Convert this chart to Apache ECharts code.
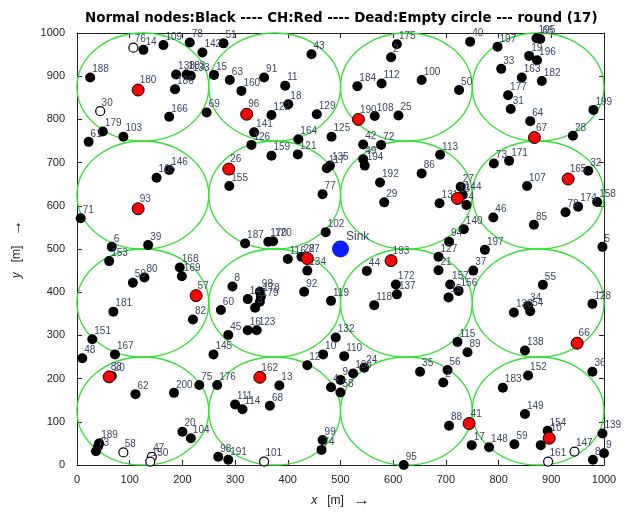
<!DOCTYPE html>
<html>
<head>
<meta charset="utf-8">
<script src="https://cdn.jsdelivr.net/npm/echarts@6/dist/echarts.min.js"></script>
<style>
  html, body { margin: 0; padding: 0; background: #fff; }
  #chart { width: 632px; height: 516px; }
</style>
</head>
<body>
<div id="chart"></div>
<script>
// cluster cells (centres of the green circles) and their radius
const cellCentres = [125, 375, 625, 875];
const cellRadius = 125;

// [x, y, id]
const normalNodes = [
  [126, 961, '14'], [164, 972, '109'], [214, 978, '78'], [238, 955, '142'], [278, 976, '51'],
  [25, 897, '188'], [188, 904, '138'], [208, 904, '183'], [216, 901, '133'], [186, 870, '186'],
  [260, 903, '15'], [290, 891, '63'], [312, 866, '160'], [175, 806, '166'], [246, 816, '69'],
  [49, 772, '179'], [88, 760, '103'], [22, 748, '61'],
  [445, 951, '43'], [355, 897, '91'], [395, 878, '11'], [401, 835, '18'], [369, 810, '122'],
  [455, 812, '129'], [336, 770, '141'], [331, 741, '126'], [420, 754, '164'], [483, 760, '125'],
  [607, 974, '175'], [596, 944, '2'], [532, 877, '184'], [578, 883, '112'], [654, 891, '100'],
  [565, 808, '108'], [610, 809, '25'], [543, 742, '42'], [577, 741, '72'],
  [746, 980, '40'], [798, 968, '197'], [872, 988, '195'], [879, 986, '65'], [858, 947, '19'],
  [873, 937, '196'], [805, 917, '33'], [844, 897, '163'], [882, 889, '182'], [818, 856, '177'],
  [823, 824, '31'], [860, 796, '64'], [980, 822, '199'], [941, 762, '28'], [725, 868, '50'],
  [175, 683, '146'], [151, 665, '105'], [289, 646, '155'], [7, 571, '71'], [66, 505, '6'], [135, 509, '39'],
  [369, 716, '159'], [419, 719, '121'], [474, 687, '117'], [480, 693, '135'], [466, 627, '77'],
  [472, 539, '102'], [363, 517, '170'], [372, 518, '120'], [319, 513, '187'], [543, 708, '49'],
  [546, 693, '194'], [575, 654, '192'], [583, 608, '29'], [654, 675, '86'],
  [689, 718, '113'], [728, 644, '27'], [732, 625, '144'], [739, 602, '4'], [688, 606, '131'],
  [734, 546, '140'], [706, 517, '94'], [686, 482, '127'], [774, 498, '197'], [791, 698, '73'],
  [820, 704, '171'], [854, 646, '107'], [970, 681, '32'], [790, 573, '46'], [867, 556, '85'],
  [927, 585, '78'], [951, 598, '174'], [987, 609, '158'], [997, 505, '5'],
  [61, 472, '153'], [106, 422, '59'], [128, 434, '80'], [195, 457, '168'], [199, 437, '169'],
  [69, 355, '181'], [220, 337, '82'], [29, 291, '151'], [72, 256, '167'], [10, 247, '48'],
  [259, 256, '145'], [295, 413, '8'], [273, 359, '60'], [287, 301, '45'],
  [400, 477, '116'], [426, 482, '22'], [437, 450, '134'], [431, 401, '92'], [482, 380, '119'],
  [324, 384, '14'], [347, 401, '98'], [349, 390, '178'], [347, 378, '179'], [338, 364, '3'],
  [324, 312, '16'], [341, 312, '123'],
  [550, 449, '44'], [605, 418, '172'], [607, 395, '137'], [564, 370, '118'], [491, 295, '132'],
  [467, 256, '10'], [507, 252, '110'], [437, 231, '12'], [545, 225, '24'], [524, 212, '106'],
  [686, 451, '21'], [752, 450, '37'], [708, 418, '157'], [724, 403, '156'], [705, 388, '15'],
  [884, 417, '55'], [829, 353, '130'], [856, 368, '34'], [860, 356, '54'], [978, 373, '128'],
  [850, 265, '138'], [722, 285, '115'], [741, 261, '89'],
  [111, 164, '62'], [184, 167, '200'], [232, 185, '75'], [266, 185, '176'], [200, 77, '20'],
  [216, 62, '104'], [42, 50, '189'], [40, 43, ''], [36, 32, '73'], [268, 19, '98'], [287, 12, '191'],
  [300, 140, '111'], [314, 129, '114'], [66, 206, '20'],
  [384, 184, '13'], [366, 137, '68'], [500, 197, '9'], [482, 180, '4'], [500, 168, '58'],
  [466, 58, '99'], [464, 35, '74'], [620, 0, '95'], [651, 216, '35'],
  [703, 220, '56'], [695, 191, '2'], [706, 91, '88'], [749, 46, '17'], [782, 41, '148'],
  [808, 179, '183'], [856, 207, '152'], [978, 216, '36'], [850, 118, '149'], [830, 48, '59'],
  [893, 79, '154'], [880, 46, ''], [979, 12, '8'], [1000, 27, '9'], [997, 73, '139']
];

const clusterHeads = [
  [116, 868, '180'], [322, 812, '96'], [534, 800, '190'], [868, 758, '67'], [288, 685, '26'],
  [116, 593, '93'], [722, 617, '13'], [932, 662, '165'], [226, 392, '57'], [437, 478, '87'],
  [596, 473, '193'], [949, 282, '66'], [61, 204, '83'], [347, 203, '162'], [744, 96, '41'],
  [896, 62, '10']
];

const deadNodes = [
  [107, 966, '76'], [44, 819, '30'], [88, 29, '58'], [142, 19, '47'], [139, 8, '150'],
  [355, 8, '101'], [894, 8, '161'], [944, 31, '147']
];

const sinkNode = [[500, 500, 'Sink']];

const cells = [];
cellCentres.forEach((cx) => {
  cellCentres.forEach((cy) => {
    cells.push([cx, cy, cellRadius]);
  });
});

const labelStyle = (size) => ({
  show: true,
  formatter: (p) => p.value[2],
  position: [size / 2 + 2, -3],
  align: 'left',
  verticalAlign: 'middle',
  color: '#3a4566',
  fontSize: 10,
  fontFamily: 'Liberation Sans, Arial, sans-serif'
});

const valueAxis = (extra) => Object.assign({
  type: 'value',
  min: 0,
  max: 1000,
  interval: 100,
  splitLine: { show: false },
  axisLine: { show: true, onZero: false, lineStyle: { color: '#222', width: 1 } },
  axisTick: { show: true, inside: true, length: 5, lineStyle: { color: '#222' } },
  axisLabel: { show: false }
}, extra);

const tickLabel = (margin) => ({
  color: '#222',
  fontSize: 11,
  margin: margin,
  fontFamily: 'Liberation Sans, Arial, sans-serif',
  formatter: (v) => String(v)
});

const axisName = {
  color: '#222', fontSize: 12, fontFamily: 'Liberation Sans, Arial, sans-serif',
  rich: {
    i: { fontStyle: 'italic', fontSize: 12, color: '#222' },
    a: { fontSize: 16, color: '#222' }
  }
};

const chart = echarts.init(document.getElementById('chart'));

chart.setOption({
  animation: false,
  backgroundColor: '#fff',
  title: {
    text: 'Normal nodes:Black ---- CH:Red ---- Dead:Empty circle --- round (17)',
    left: 80,
    top: 7,
    textStyle: {
      fontSize: 13.4,
      fontWeight: 'bold',
      color: '#000',
      fontFamily: 'DejaVu Sans, sans-serif'
    }
  },
  grid: { left: 77, right: 28, top: 33, bottom: 51 },
  xAxis: [
    valueAxis({
      position: 'bottom',
      name: '{i|x}   [m]   {a|→}',
      nameLocation: 'middle',
      nameGap: 28,
      nameTextStyle: axisName,
      axisLabel: tickLabel(9)
    }),
    valueAxis({ position: 'top' })
  ],
  yAxis: [
    valueAxis({
      position: 'left',
      name: '{i|y}   [m]   {a|→}',
      nameLocation: 'middle',
      nameGap: 52,
      nameTextStyle: axisName,
      axisLabel: tickLabel(12)
    }),
    valueAxis({ position: 'right' })
  ],
  series: [
    {
      type: 'custom',
      name: 'cells',
      silent: true,
      z: 1,
      data: cells,
      renderItem: (params, api) => {
        const c = api.coord([api.value(0), api.value(1)]);
        const rx = api.size([api.value(2), 0])[0];
        const ry = api.size([0, api.value(2)])[1];
        return {
          type: 'ellipse',
          shape: { cx: c[0], cy: c[1], rx: rx, ry: ry },
          style: { fill: 'none', stroke: '#33e033', lineWidth: 1.3 }
        };
      }
    },
    {
      type: 'scatter',
      name: 'normal',
      z: 3,
      data: normalNodes,
      symbolSize: 10,
      itemStyle: { color: '#000', opacity: 1 },
      label: labelStyle(10)
    },
    {
      type: 'scatter',
      name: 'dead',
      z: 3,
      data: deadNodes,
      symbolSize: 9,
      itemStyle: { color: '#fff', borderColor: '#000', borderWidth: 1.2, opacity: 1 },
      label: labelStyle(9)
    },
    {
      type: 'scatter',
      name: 'heads',
      z: 4,
      data: clusterHeads,
      symbolSize: 12,
      itemStyle: { color: '#ff0000', borderColor: '#000', borderWidth: 1, opacity: 1 },
      label: labelStyle(12)
    },
    {
      type: 'scatter',
      name: 'sink',
      z: 5,
      data: sinkNode,
      symbolSize: 17,
      itemStyle: { color: '#0b1cff', opacity: 1 },
      label: Object.assign(labelStyle(17), { fontSize: 12, position: [14, -4] })
    }
  ]
});
</script>
</body>
</html>
